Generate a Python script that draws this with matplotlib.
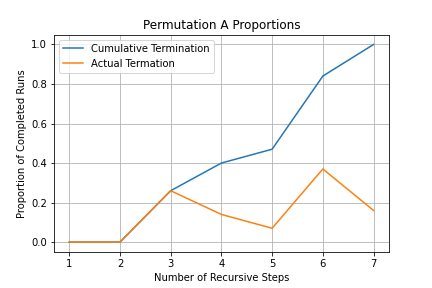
import matplotlib
matplotlib.use('Agg')
import matplotlib.pyplot as plt

steps = [1, 2, 3, 4, 5, 6, 7]
cumulative = [0.0, 0.0, 0.26, 0.40, 0.47, 0.84, 1.0]
actual = [0.0, 0.0, 0.26, 0.14, 0.07, 0.37, 0.16]

fig, ax = plt.subplots(figsize=(6, 4), dpi=72)
fig.subplots_adjust(bottom=0.125)
ax.plot(steps, cumulative, label='Cumulative Termination')
ax.plot(steps, actual, label='Actual Termation')
ax.set_title('Permutation A Proportions')
ax.set_xlabel('Number of Recursive Steps')
ax.set_ylabel('Proportion of Completed Runs')
ax.grid(True)
ax.legend()

plt.savefig('out.png', dpi=72)
